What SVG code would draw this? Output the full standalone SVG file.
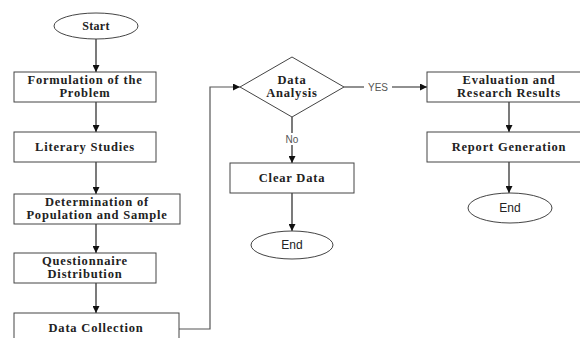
<svg xmlns="http://www.w3.org/2000/svg" width="580" height="338" viewBox="0 0 580 338">
  <style>
    .box { fill: #ffffff; stroke: #444444; stroke-width: 1; }
    .term { fill: #ffffff; stroke: #444444; stroke-width: 1; }
    .lbl { font-family: "Liberation Serif", "Times New Roman", serif; font-weight: bold; font-size: 12.5px; fill: #222222; text-anchor: middle; letter-spacing: 0.8px; }
    .end { font-family: "Liberation Sans", Arial, sans-serif; font-size: 12px; fill: #222222; text-anchor: middle; }
    .edge-lbl { font-family: "Liberation Sans", Arial, sans-serif; font-size: 10px; fill: #555555; text-anchor: middle; }
    .link { fill: none; stroke: #222222; stroke-width: 1.2; marker-end: url(#arrow); }
    .loop { fill: none; stroke: #555555; stroke-width: 1.2; marker-end: url(#arrow); }
  </style>
  <defs>
    <marker id="arrow" viewBox="0 0 10 10" refX="10" refY="5" markerWidth="7" markerHeight="7" markerUnits="userSpaceOnUse" orient="auto">
      <path d="M0,0 L10,5 L0,10 z" fill="#111111"/>
    </marker>
  </defs>
  <rect width="580" height="338" fill="#ffffff"/>

  <g id="connectors">
    <line class="link" x1="96" y1="39" x2="96" y2="72"/>
    <line class="link" x1="96" y1="102" x2="96" y2="132"/>
    <line class="link" x1="96" y1="162" x2="96" y2="194"/>
    <line class="link" x1="96" y1="224" x2="96" y2="253"/>
    <line class="link" x1="96" y1="283" x2="96" y2="313"/>
    <polyline class="loop" points="179,329 210,329 210,87 240,87"/>
    <line class="link" x1="292" y1="117" x2="292" y2="163"/>
    <line class="link" x1="292" y1="193" x2="292" y2="231"/>
    <line class="link" x1="344" y1="87" x2="427" y2="87"/>
    <line class="link" x1="509" y1="102" x2="509" y2="132"/>
    <line class="link" x1="509" y1="162" x2="509" y2="193"/>
    <rect x="282" y="133" width="20" height="12" fill="#ffffff"/>
    <text class="edge-lbl" x="292" y="143">No</text>
    <rect x="364" y="81" width="28" height="12" fill="#ffffff"/>
    <text class="edge-lbl" x="378" y="91">YES</text>
  </g>

  <g id="start">
    <ellipse class="term" cx="96" cy="26" rx="42" ry="13"/>
    <text class="lbl" x="96" y="30" style="font-size:12px;letter-spacing:0.3px">Start</text>
  </g>

  <g id="formulation">
    <rect class="box" x="14" y="72" width="142" height="30"/>
    <text class="lbl" x="85" y="83.5">Formulation of the</text>
    <text class="lbl" x="85" y="97">Problem</text>
  </g>

  <g id="literary-studies">
    <rect class="box" x="14" y="132" width="142" height="30"/>
    <text class="lbl" x="85" y="151">Literary Studies</text>
  </g>

  <g id="population-sample">
    <rect class="box" x="14" y="194" width="166" height="30"/>
    <text class="lbl" x="97" y="205.5">Determination of</text>
    <text class="lbl" x="97" y="219">Population and Sample</text>
  </g>

  <g id="questionnaire">
    <rect class="box" x="14" y="253" width="142" height="30"/>
    <text class="lbl" x="85" y="264.5">Questionnaire</text>
    <text class="lbl" x="85" y="278">Distribution</text>
  </g>

  <g id="data-collection">
    <rect class="box" x="14" y="313" width="165" height="34"/>
    <text class="lbl" x="96" y="332">Data Collection</text>
  </g>

  <g id="data-analysis">
    <polygon class="box" points="240,87 292,57 344,87 292,117"/>
    <text class="lbl" x="292" y="83.5">Data</text>
    <text class="lbl" x="292" y="97">Analysis</text>
  </g>

  <g id="clear-data">
    <rect class="box" x="230" y="163" width="124" height="30"/>
    <text class="lbl" x="292" y="182">Clear Data</text>
  </g>

  <g id="end-no">
    <ellipse class="term" cx="292" cy="245" rx="41" ry="14"/>
    <text class="end" x="292" y="249">End</text>
  </g>

  <g id="evaluation">
    <rect class="box" x="427" y="72" width="166" height="30"/>
    <text class="lbl" x="509" y="83.5">Evaluation and</text>
    <text class="lbl" x="509" y="97">Research Results</text>
  </g>

  <g id="report">
    <rect class="box" x="427" y="132" width="166" height="30"/>
    <text class="lbl" x="509" y="151">Report Generation</text>
  </g>

  <g id="end-yes">
    <ellipse class="term" cx="510" cy="208" rx="42" ry="15"/>
    <text class="end" x="510" y="212">End</text>
  </g>
</svg>
